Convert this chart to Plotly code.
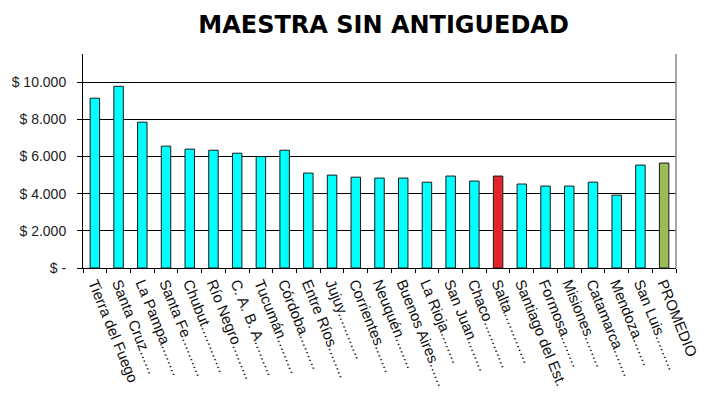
import plotly.graph_objects as go

categories = [
    "Tierra del Fuego", "Santa Cruz......", "La Pampa........", "Santa Fe..........",
    "Chubut............", "Río Negro.........", "C. A. B. A.........", "Tucumán.........",
    "Córdoba.........", "Entre Ríos........", "Jujuy............", "Corrientes.......",
    "Neuquén........", "Buenos Aires......", "La Rioja........", "San Juan........",
    "Chaco............", "Salta.............", "Santiago del Est.", "Formosa........",
    "Misiones........", "Catamarca.......", "Mendoza.......", "San Luis.........",
    "PROMEDIO",
]
values = [
    9140, 9780, 7850, 6560, 6400, 6340, 6180, 6000, 6340, 5110, 5000, 4890,
    4840, 4840, 4620, 4950, 4680, 4950, 4520, 4410, 4410, 4620, 3920, 5540, 5650,
]
highlight = {"Salta.............": "#E3242B", "PROMEDIO": "#9BBB59"}
tick_vals = [0, 2000, 4000, 6000, 8000, 10000]
tick_text = ["$ -", "$ 2.000", "$ 4.000", "$ 6.000", "$ 8.000", "$ 10.000"]

colors = [highlight.get(c, "#00FFFF") for c in categories]

fig = go.Figure(go.Bar(
    x=categories, y=values,
    marker=dict(color=colors, line=dict(color="#1a1a1a", width=1)),
))

font_family = "Liberation Sans, Arial, sans-serif"
fig.update_layout(
    width=713, height=410,
    margin=dict(l=83, r=30, t=54, b=142),
    paper_bgcolor="white", plot_bgcolor="white",
    bargap=0.6,
    showlegend=False,
    font=dict(family=font_family, size=14, color="#111"),
    title=dict(text="<b>MAESTRA SIN ANTIGUEDAD</b>", x=0.538, xanchor="center",
               y=0.94, yanchor="middle",
               font=dict(size=24, color="black", family="DejaVu Sans, sans-serif")),
    xaxis=dict(
        tickangle=68, ticks="outside", ticklen=4, tickson="boundaries",
        tickcolor="black", showline=True, linecolor="black", linewidth=1,
        showgrid=False, tickfont=dict(size=15, color="#111"),
    ),
    yaxis=dict(
        range=[0, 11520], tickvals=tick_vals, ticktext=tick_text,
        ticks="outside", ticklen=5, tickcolor="black",
        showline=True, linecolor="black", linewidth=1,
        showgrid=True, gridcolor="black", gridwidth=1.3,
        zeroline=False, tickfont=dict(size=14, color="#222"),
        ticklabelstandoff=8,
    ),
    shapes=[dict(type="line", xref="paper", yref="paper", x0=1, x1=1, y0=0, y1=1,
                 line=dict(color="#888888", width=1.5))],
)

fig.write_html("out.html")
